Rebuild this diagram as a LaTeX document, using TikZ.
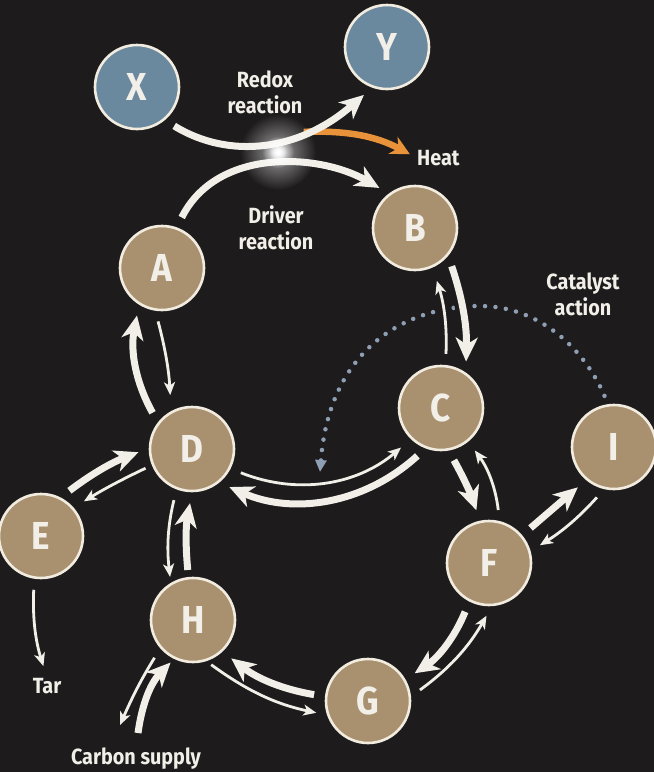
\documentclass[tikz,border=0pt]{standalone}
\usepackage{fontspec}
\setmainfont{Fira Sans}
\newfontfamily\labfont{Fira Sans}[FakeStretch=0.9]
\usetikzlibrary{arrows.meta,fadings}

\definecolor{bg}{HTML}{1D1B1C}
\definecolor{tan}{HTML}{A99170}
\definecolor{steel}{HTML}{6A889E}
\definecolor{rim}{HTML}{F1ECDF}
\definecolor{ink}{HTML}{F2EFE8}
\definecolor{heat}{HTML}{E8923A}
\definecolor{dots}{HTML}{8E9FB4}

\tikzfading[name=glowfade, inner color=transparent!0, outer color=transparent!100]

\tikzset{
  sub/.style={circle, minimum size=84pt, inner sep=0pt, fill=tan, draw=rim,
    line width=2.6pt, text=ink, font=\labfont\bfseries\fontsize{39}{39}\selectfont},
  ox/.style={sub, fill=steel},
  lab/.style={text=ink, font=\labfont\bfseries\fontsize{22}{26}\selectfont,
    align=center, inner sep=0pt},
  bigarrow/.style={draw=ink, line width=7pt,
    -{Stealth[length=24pt,width=22pt,inset=7pt]},
    shorten <=11pt, shorten >=11pt},
  smallarrow/.style={draw=ink, line width=2.8pt,
    -{Stealth[length=13pt,width=11pt,inset=3.5pt]},
    shorten <=11pt, shorten >=11pt},
  heatarrow/.style={draw=heat, line width=6.5pt,
    -{Stealth[length=19pt,width=19pt,inset=6pt]}, shorten >=8pt},
  halo/.style={preaction={draw=bg, line width=15pt, arrows=-}},
  catalyst/.style={draw=dots, line width=4.5pt, line cap=round,
    dash pattern=on 0pt off 10.5pt, shorten <=9pt,
    -{Triangle[length=12pt,width=11pt]}}
}

\begin{document}
\begin{tikzpicture}[x=1pt, y=1pt]
  % backdrop
  \fill[bg] (0,0) rectangle (654,-772);
  \useasboundingbox (0,0) rectangle (654,-772);

  % species
  \node[ox]  (X) at (137,-87)  {X};
  \node[ox]  (Y) at (387,-47)  {Y};
  \node[sub] (A) at (162,-268) {A};
  \node[sub] (B) at (415,-228) {B};
  \node[sub] (C) at (441,-408) {C};
  \node[sub] (D) at (192,-449) {D};
  \node[sub] (E) at (41,-536)  {E};
  \node[sub] (F) at (489,-563) {F};
  \node[sub] (G) at (368,-701) {G};
  \node[sub] (H) at (193,-620) {H};
  \node[sub] (I) at (614,-447) {I};

  % labels
  \node[lab] (redoxlab)  at (265,-92)  {Redox\\reaction};
  \node[lab] (driverlab) at (276,-228) {Driver\\reaction};
  \node[lab] (catlab)    at (583,-294) {Catalyst\\action};
  \node[lab, anchor=west] (heatlab) at (417,-158) {Heat};
  \node[lab, anchor=base] (tar)     at (47,-693)  {Tar};
  \node[lab, anchor=base] (carbon)  at (136,-764) {Carbon supply};

  \coordinate (cat) at (320,-472);
  \coordinate (cs1) at (120,-725);
  \coordinate (cs2) at (138,-733);

  % catalyst action (dotted)
  \draw[catalyst] (I.98) .. controls (585,-350) and (540,-306) .. (480,-306)
                  .. controls (410,-306) and (330,-345) .. (cat);

  % coupled redox / driver reactions
  \path (X.-50) .. controls +(65,-40) and +(-72,-63) .. coordinate[pos=0.68] (hx) (Y.-110);
  \draw[heatarrow] (hx) to[bend left=15] (heatlab.west);
  \draw[bigarrow] (X.-50) .. controls +(65,-40) and +(-72,-63) .. (Y.-110);
  \draw[bigarrow] (A.70) .. controls +(40,80) and +(-70,40) .. (B.127);

  % glow where the two reactions meet
  \fill[white, path fading=glowfade, opacity=0.6] (278,-152) circle (38pt);
  \fill[white, path fading=glowfade] (278,-152) circle (16pt);
  \fill[white, path fading=glowfade] (278,-152) circle (9pt);

  % A <-> D
  \draw[bigarrow] (D.142) to[bend left=20] (A.-122);
  \draw[smallarrow, shorten >=16pt] (A.-99) to[bend left=6] (D.119);

  % B <-> C
  \draw[bigarrow, halo] (B.-40) to[bend left=10] (C.55);
  \draw[smallarrow, halo, shorten >=14pt] (C.84) to[bend right=10] (B.-66);

  % C <-> D
  \draw[smallarrow, shorten >=13pt] (D.-27) to[bend right=31] (C.-134);
  \draw[bigarrow] (C.-111) to[bend left=33] (D.-51);

  % C <-> F
  \draw[bigarrow] (C.-80) to[bend left=5] (F.102);
  \draw[smallarrow] (F.76) to[bend right=15] (C.-51);

  % F <-> I
  \draw[bigarrow] (F.40) to (I.-130);
  \draw[smallarrow] (I.-103) to[bend left=8] (F.16);

  % F <-> G
  \draw[bigarrow] (F.-117) to[bend left=17] (G.30);
  \draw[smallarrow] (G.6) to[bend right=12] (F.-86);

  % G <-> H
  \draw[bigarrow] (G.174) to[bend left=14] (H.-47);
  \draw[smallarrow, shorten <=6pt] (H.-72) to[bend right=12] (G.-161);

  % D <-> H
  \draw[smallarrow, shorten >=6pt] (D.-111) to[bend right=10] (H.121);
  \draw[bigarrow, shorten <=7pt] (H.96) to[bend left=8] (D.-90);

  % D <-> E
  \draw[bigarrow] (E.63) to[bend left=8] (D.179);
  \draw[smallarrow, shorten <=7pt, shorten >=12pt] (D.-158) to[bend right=3] (E.41);

  % side products and feed
  \draw[smallarrow, shorten >=12pt] (E.-99) to[bend right=10] (tar.north);
  \draw[smallarrow, shorten >=0pt] (H.-139) to[bend right=4] (cs1);
  \draw[bigarrow, shorten <=0pt, shorten >=5pt] (cs2) to[bend left=18] (H.-116);
\end{tikzpicture}
\end{document}
